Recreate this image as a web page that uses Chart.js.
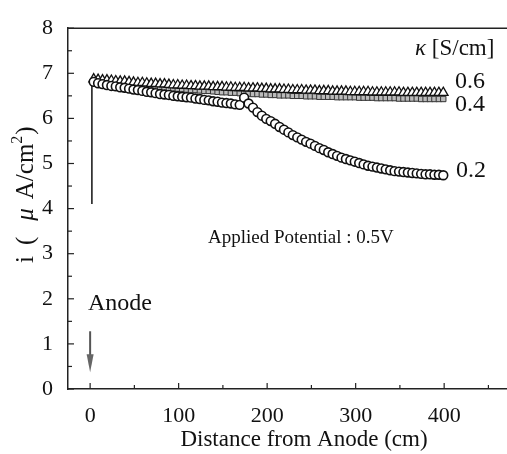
<!DOCTYPE html>
<html>
<head>
<meta charset="utf-8">
<script src="https://cdn.jsdelivr.net/npm/chart.js@4/dist/chart.umd.min.js"></script>
<style>
  html, body { margin: 0; padding: 0; background: #fff; }
  #wrap { width: 507px; height: 454px; position: relative; }
</style>
</head>
<body>
<div id="wrap"><canvas id="c" width="507" height="454"></canvas></div>
<script>
// ---- data ----
const distance = [
  4, 9, 14, 19, 24, 29, 34, 39, 44, 49, 54, 59, 64, 69, 74, 79,
  84, 89, 94, 99, 104, 109, 114, 119, 124, 129, 134, 139, 144, 149, 154, 159,
  164, 169, 174, 179, 184, 189, 194, 199, 204, 209, 214, 219, 224, 229, 234, 239,
  244, 249, 254, 259, 264, 269, 274, 279, 284, 289, 294, 299, 304, 309, 314, 319,
  324, 329, 334, 339, 344, 349, 354, 359, 364, 369, 374, 379, 384, 389, 394, 399
];
const kappa02 = [
  6.81, 6.78, 6.76, 6.74, 6.72, 6.71, 6.69, 6.68, 6.66, 6.64, 6.63, 6.61, 6.59, 6.58, 6.56, 6.54,
  6.53, 6.52, 6.50, 6.49, 6.48, 6.47, 6.46, 6.44, 6.43, 6.41, 6.40, 6.38, 6.37, 6.35, 6.34, 6.33,
  6.31, 6.30, 6.46, 6.33, 6.24, 6.14, 6.06, 5.99, 5.94, 5.88, 5.81, 5.75, 5.69, 5.63, 5.58, 5.53,
  5.48, 5.44, 5.39, 5.34, 5.30, 5.25, 5.21, 5.17, 5.13, 5.10, 5.07, 5.04, 5.01, 4.98, 4.95, 4.93,
  4.91, 4.89, 4.87, 4.85, 4.83, 4.82, 4.81, 4.80, 4.79, 4.78, 4.77, 4.76, 4.76, 4.75, 4.75, 4.74
];
const kappa04 = [
  6.83, 6.82, 6.81, 6.80, 6.79, 6.78, 6.77, 6.76, 6.75, 6.74, 6.73, 6.72, 6.71, 6.71, 6.70, 6.69,
  6.68, 6.67, 6.67, 6.66, 6.65, 6.64, 6.63, 6.63, 6.62, 6.61, 6.61, 6.60, 6.59, 6.58, 6.58, 6.57,
  6.57, 6.56, 6.55, 6.55, 6.54, 6.54, 6.53, 6.53, 6.52, 6.52, 6.51, 6.51, 6.51, 6.50, 6.50, 6.50,
  6.49, 6.49, 6.49, 6.48, 6.48, 6.48, 6.48, 6.47, 6.47, 6.47, 6.47, 6.47, 6.46, 6.46, 6.46, 6.46,
  6.45, 6.45, 6.45, 6.45, 6.45, 6.44, 6.44, 6.44, 6.44, 6.44, 6.43, 6.43, 6.43, 6.43, 6.43, 6.43
];
const kappa06 = [
  6.87, 6.86, 6.85, 6.85, 6.84, 6.83, 6.82, 6.82, 6.81, 6.80, 6.79, 6.79, 6.78, 6.77, 6.77, 6.76,
  6.76, 6.75, 6.74, 6.74, 6.73, 6.73, 6.72, 6.72, 6.71, 6.71, 6.71, 6.70, 6.70, 6.70, 6.69, 6.69,
  6.68, 6.68, 6.68, 6.67, 6.67, 6.67, 6.66, 6.66, 6.65, 6.65, 6.65, 6.64, 6.64, 6.63, 6.63, 6.63,
  6.62, 6.62, 6.62, 6.61, 6.61, 6.61, 6.60, 6.60, 6.60, 6.60, 6.59, 6.59, 6.59, 6.59, 6.59, 6.58,
  6.58, 6.58, 6.58, 6.58, 6.58, 6.58, 6.57, 6.57, 6.57, 6.57, 6.57, 6.57, 6.57, 6.57, 6.57, 6.57
];
const edgeDistance = [2, 2];
const edgeCurrent = [4.1, 6.82];
const anodeArrowDistance = 0;
const anodeArrowCurrent = [1.28, 0.37];
const seriesLabels = ["0.2", "0.4", "0.6"];
const xTickValues = [0, 50, 100, 150, 200, 250, 300, 350, 400, 450];
const xLabelValues = [0, 100, 200, 300, 400];
const yTickValues = [0, 0.5, 1, 1.5, 2, 2.5, 3, 3.5, 4, 4.5, 5, 5.5, 6, 6.5, 7, 7.5, 8];

// ---- build ----
const toPts = (xs, ys) => xs.map((x, i) => ({ x: x, y: ys[i] }));
const SERIF = '"Liberation Serif", "DejaVu Serif", serif';
const INK = '#111';

const decorPlugin = {
  id: 'decor',
  afterDraw(chart) {
    const ctx = chart.ctx;
    const xs = chart.scales.x, ys = chart.scales.y;
    const a = chart.chartArea;
    ctx.save();
    // frame top line
    ctx.strokeStyle = '#222';
    ctx.lineWidth = 1.5;
    ctx.beginPath();
    ctx.moveTo(a.left, a.top);
    ctx.lineTo(a.right, a.top);
    ctx.stroke();
    // inward ticks
    ctx.lineWidth = 1.2;
    xs.ticks.forEach(t => {
      const px = xs.getPixelForValue(t.value);
      const len = (t.value % 100 === 0) ? 6 : 4;
      ctx.beginPath();
      ctx.moveTo(px, a.bottom);
      ctx.lineTo(px, a.bottom - len);
      ctx.stroke();
    });
    ys.ticks.forEach(t => {
      const py = ys.getPixelForValue(t.value);
      const len = (Number.isInteger(t.value)) ? 6 : 4;
      ctx.beginPath();
      ctx.moveTo(a.left, py);
      ctx.lineTo(a.left + len, py);
      ctx.stroke();
    });
    // anode arrow
    const ax = xs.getPixelForValue(anodeArrowDistance);
    const ay0 = ys.getPixelForValue(anodeArrowCurrent[0]);
    const ay1 = ys.getPixelForValue(anodeArrowCurrent[1]);
    ctx.strokeStyle = '#555';
    ctx.fillStyle = '#666';
    ctx.lineWidth = 2;
    ctx.beginPath();
    ctx.moveTo(ax, ay0);
    ctx.lineTo(ax, ay1 - 14);
    ctx.stroke();
    ctx.beginPath();
    ctx.moveTo(ax - 3.5, ay1 - 18);
    ctx.lineTo(ax + 3.5, ay1 - 18);
    ctx.lineTo(ax, ay1);
    ctx.closePath();
    ctx.fill();

    // texts
    ctx.fillStyle = INK;
    ctx.textBaseline = 'middle';
    ctx.textAlign = 'left';
    ctx.font = '24px ' + SERIF;
    ctx.fillText('Anode', 88, 304);
    ctx.font = '19px ' + SERIF;
    ctx.fillText('Applied Potential : 0.5V', 208, 238);
    // kappa header
    ctx.font = 'italic 23px ' + SERIF;
    ctx.fillText('\u03BA', 415, 49);
    let kw = ctx.measureText('\u03BA').width;
    ctx.font = '23px ' + SERIF;
    ctx.fillText(' [S/cm]', 415 + kw, 49);
    // series labels
    ctx.font = '24px ' + SERIF;
    ctx.fillText(seriesLabels[2], 455, 82);
    ctx.fillText(seriesLabels[1], 455, 105);
    ctx.fillText(seriesLabels[0], 456, 171);
    // x axis title
    ctx.textAlign = 'center';
    ctx.font = '23px ' + SERIF;
    ctx.fillText('Distance from Anode (cm)', 304, 440);
    // y axis title (rotated), wide spacing as in the source
    ctx.save();
    ctx.translate(26, 263);
    ctx.rotate(-Math.PI / 2);
    ctx.textAlign = 'left';
    let cx = 0;
    const pieces = [
      ['i', '25px ' + SERIF, 0, 11],
      ['(', '25px ' + SERIF, 0, 16],
      ['\u03BC', 'italic 25px ' + SERIF, 0, 9],
      ['A/cm', '25px ' + SERIF, 0, 0],
      ['2', '16px ' + SERIF, -8, 1],
      [')', '25px ' + SERIF, 0, 0]
    ];
    pieces.forEach(p => {
      ctx.font = p[1];
      ctx.fillText(p[0], cx, p[2]);
      cx += ctx.measureText(p[0]).width + p[3];
    });
    ctx.restore();
    ctx.restore();
  }
};

new Chart(document.getElementById('c'), {
  type: 'scatter',
  data: {
    datasets: [
      {
        label: '\u03BA = 0.2 S/cm',
        data: toPts(distance, kappa02),
        pointStyle: 'circle', pointRadius: 4.4, pointBorderWidth: 1.6,
        pointBorderColor: '#111', pointBackgroundColor: '#fff'
      },
      {
        label: '\u03BA = 0.6 S/cm',
        data: toPts(distance, kappa06),
        pointStyle: 'triangle', pointRadius: 5.5, pointBorderWidth: 1.3,
        pointBorderColor: '#111', pointBackgroundColor: '#fff'
      },
      {
        label: '\u03BA = 0.4 S/cm',
        data: toPts(distance, kappa04),
        pointStyle: 'rect', pointRadius: 3.8, pointBorderWidth: 1,
        pointBorderColor: '#333', pointBackgroundColor: '#bbb'
      },
      {
        label: 'edge',
        data: toPts(edgeDistance, edgeCurrent),
        showLine: true, pointRadius: 0, borderColor: '#111', borderWidth: 1.5
      }
    ]
  },
  options: {
    responsive: false,
    animation: false,
    devicePixelRatio: 1,
    layout: { autoPadding: false, padding: { top: 20, left: 0, right: 0, bottom: 0 } },
    plugins: { legend: { display: false }, tooltip: { enabled: false } },
    scales: {
      x: {
        type: 'linear', min: -25, max: 471,
        grid: { display: false, drawTicks: false },
        border: { display: true, color: '#222', width: 1.5 },
        afterBuildTicks: s => { s.ticks = xTickValues.map(v => ({ value: v })); },
        afterFit: s => { s.height = 65; s.paddingRight = 0; s.paddingLeft = 0; },
        ticks: {
          autoSkip: false, maxRotation: 0, padding: 14, color: INK,
          font: { family: SERIF, size: 22 },
          callback: v => xLabelValues.includes(v) ? String(v) : ''
        }
      },
      y: {
        min: 0, max: 8,
        grid: { display: false, drawTicks: false },
        border: { display: true, color: '#222', width: 1.5 },
        afterBuildTicks: s => { s.ticks = yTickValues.map(v => ({ value: v })); },
        afterFit: s => { s.width = 68; s.paddingBottom = 0; },
        ticks: {
          autoSkip: false, padding: 15, color: INK,
          font: { family: SERIF, size: 22 },
          callback: v => Number.isInteger(v) ? String(v) : ''
        }
      }
    }
  },
  plugins: [decorPlugin]
});
</script>
</body>
</html>
